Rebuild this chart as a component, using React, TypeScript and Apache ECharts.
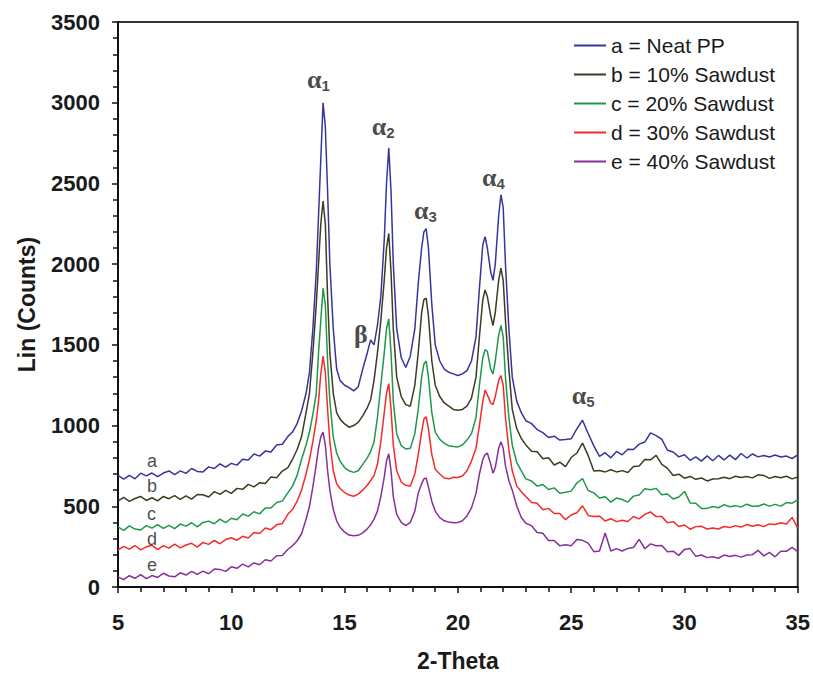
import { useEffect, useRef } from "react";
import * as echarts from "echarts";

// 2-Theta sampling positions (degrees)
const twoTheta = [
  5, 5.25, 5.5, 5.75, 6, 6.25, 6.5, 6.75, 7, 7.25, 7.5, 7.75, 8, 8.25, 8.5, 8.75, 9, 9.25, 9.5, 9.75,
  10, 10.25, 10.5, 10.75, 11, 11.25, 11.5, 11.75, 12, 12.25, 12.5,
  12.7, 12.9, 13.1, 13.3, 13.45, 13.6, 13.75, 13.85, 13.95, 14.05, 14.15, 14.25, 14.35, 14.5, 14.65, 14.8,
  15.0, 15.2, 15.4, 15.6, 15.8, 16.0, 16.15, 16.3, 16.45, 16.6, 16.75, 16.85, 16.95, 17.05, 17.15, 17.3,
  17.5, 17.7, 17.9, 18.1, 18.25, 18.4, 18.5, 18.6, 18.7, 18.85, 19.0, 19.2, 19.4, 19.6, 19.8, 20.0, 20.2,
  20.4, 20.6, 20.8, 20.95, 21.1, 21.2, 21.3, 21.45, 21.55, 21.65, 21.8, 21.9, 22.0, 22.1, 22.25, 22.4,
  22.6, 22.8, 23.0,
  23.25, 23.5, 23.75, 24, 24.25, 24.5, 24.75, 25, 25.25, 25.5, 25.75, 26, 26.25, 26.5, 26.75, 27, 27.25,
  27.5, 27.75, 28, 28.25, 28.5, 28.75, 29, 29.25, 29.5, 29.75, 30, 30.25, 30.5, 30.75, 31, 31.25, 31.5,
  31.75, 32, 32.25, 32.5, 32.75, 33, 33.25, 33.5, 33.75, 34, 34.25, 34.5, 34.75, 35,
];

const seriesNames = [
  "a = Neat PP",
  "b = 10% Sawdust",
  "c = 20% Sawdust",
  "d = 30% Sawdust",
  "e = 40% Sawdust",
];

const neatPP = [
  692, 668, 691, 670, 705, 688, 706, 683, 706, 719, 696, 719, 704, 734, 716, 713, 744, 734, 763, 742,
  766, 755, 792, 787, 824, 811, 842, 836, 880, 884, 933,
  960, 1010, 1090, 1200, 1330, 1600, 1950, 2300, 2650, 3000, 2850, 2450, 2000, 1600, 1350, 1280,
  1250, 1235, 1215, 1240, 1350, 1450, 1530, 1500, 1620, 1800, 2150, 2500, 2720, 2450, 2000, 1600,
  1420, 1360, 1430, 1600, 1880, 2100, 2200, 2220, 2100, 1750, 1500, 1400, 1350, 1330, 1320, 1310, 1320,
  1340, 1400, 1550, 1850, 2120, 2170, 2100, 1950, 1900, 2000, 2300, 2430, 2350, 2000, 1600, 1300,
  1150, 1080, 1030,
  1012, 975, 956, 926, 934, 910, 913, 918, 979, 1033, 951, 874, 809, 832, 800, 840, 819,
  853, 852, 885, 898, 955, 938, 914, 847, 836, 806, 819, 785, 806, 780, 812, 782, 815,
  787, 817, 789, 827, 799, 824, 806, 815, 805, 818, 805, 811, 796, 818,
];

const sawdust10 = [
  532, 555, 530, 548, 561, 536, 553, 533, 561, 547, 566, 543, 565, 544, 573, 571, 558, 591, 574, 599,
  580, 611, 605, 636, 620, 646, 641, 681, 677, 718, 739,
  790, 850, 930, 1080, 1200, 1450, 1750, 2000, 2250, 2390, 2250, 1800, 1450, 1200, 1080, 1040,
  1010, 990, 1000, 1020, 1060, 1110, 1160, 1280, 1450, 1650, 1900, 2100, 2190, 1950, 1600, 1300,
  1180, 1130, 1120, 1250, 1450, 1700, 1780, 1790, 1680, 1400, 1250, 1180, 1140, 1120, 1100, 1095, 1100,
  1120, 1170, 1300, 1550, 1780, 1840, 1800, 1680, 1620, 1700, 1900, 1975, 1900, 1650, 1350, 1100,
  980, 920, 880,
  841, 838, 794, 801, 756, 773, 746, 802, 830, 891, 815, 718, 722, 713, 726, 713, 721,
  709, 746, 750, 790, 788, 815, 759, 735, 691, 699, 674, 685, 667, 675, 657, 669, 671,
  680, 671, 686, 679, 684, 676, 695, 691, 673, 685, 677, 686, 670, 681,
];

const sawdust20 = [
  372, 351, 379, 359, 353, 380, 365, 387, 363, 382, 362, 390, 377, 398, 372, 400, 408, 392, 420, 399,
  426, 417, 452, 439, 466, 453, 489, 489, 524, 532, 585,
  625, 690, 790, 880, 960, 1070, 1200, 1450, 1650, 1850, 1750, 1400, 1150, 930, 830, 780,
  740, 720, 710, 720, 760, 800, 840, 900, 1050, 1250, 1450, 1600, 1660, 1450, 1150, 950,
  875, 855, 860, 950, 1100, 1300, 1380, 1400, 1300, 1080, 960, 915, 890, 875, 870, 868, 880,
  910, 950, 1050, 1250, 1420, 1470, 1460, 1350, 1320, 1400, 1560, 1620, 1550, 1300, 1050, 880,
  770, 720, 670,
  657, 625, 635, 604, 614, 581, 587, 594, 644, 672, 598, 583, 551, 559, 526, 551, 542,
  526, 563, 570, 608, 602, 611, 571, 576, 545, 557, 592, 521, 519, 486, 487, 499, 491,
  510, 497, 504, 496, 513, 500, 500, 514, 501, 512, 501, 523, 519, 540,
];

const sawdust30 = [
  228, 252, 235, 257, 230, 249, 258, 231, 256, 241, 266, 242, 260, 271, 247, 276, 264, 289, 268, 294,
  305, 290, 314, 303, 338, 331, 365, 355, 385, 393, 452,
  480, 530, 600, 700, 790, 900, 1030, 1150, 1320, 1430, 1330, 1100, 900, 720, 640, 610,
  585, 570, 562, 575, 600, 630, 660, 690, 760, 900, 1080, 1200, 1260, 1100, 880, 720,
  650, 630, 625, 700, 820, 960, 1040, 1055, 980, 820, 730, 700, 675, 670, 680, 678, 688,
  720, 780, 860, 1000, 1150, 1220, 1190, 1140, 1130, 1180, 1280, 1310, 1250, 1050, 850, 720,
  625, 590, 560,
  524, 519, 478, 487, 455, 455, 417, 446, 460, 503, 443, 437, 439, 409, 423, 405, 413,
  406, 437, 422, 450, 465, 436, 436, 398, 405, 375, 384, 358, 374, 376, 359, 365, 359,
  375, 368, 380, 371, 387, 376, 386, 374, 391, 387, 398, 390, 431, 364,
];

const sawdust40 = [
  63, 46, 70, 54, 76, 52, 71, 59, 85, 68, 63, 88, 74, 97, 78, 98, 82, 111, 109, 97,
  125, 116, 142, 125, 149, 138, 169, 161, 194, 195, 234,
  255, 285, 330, 420, 500, 620, 760, 860, 930, 960, 880, 720, 600, 480, 410, 370,
  340, 322, 318, 320, 335, 360, 385, 420, 470, 560, 680, 780, 825, 720, 560, 450,
  400, 380, 400, 470, 580, 640, 670, 675, 620, 530, 470, 430, 410, 402, 398, 400, 410,
  440, 490, 580, 700, 790, 820, 830, 760, 705, 740, 860, 900, 860, 750, 660, 600,
  500, 430, 395,
  380, 337, 333, 288, 288, 255, 262, 255, 294, 289, 272, 219, 223, 335, 223, 238, 223,
  239, 245, 295, 237, 267, 256, 257, 218, 222, 196, 233, 238, 190, 198, 182, 187, 178,
  198, 189, 196, 185, 198, 200, 227, 193, 214, 187, 222, 221, 245, 219,
];

const seriesValues = [neatPP, sawdust10, sawdust20, sawdust30, sawdust40];
const seriesColors = ["#35359e", "#3d3b22", "#1f984a", "#f52a2a", "#86309a"];

// Peak annotations (data coordinates of the label's left-middle point)
const peakLabels = [
  { x: 13.34, y: 3145, greek: "α", sub: "1" },
  { x: 16.2, y: 2851, greek: "α", sub: "2" },
  { x: 18.06, y: 2330, greek: "α", sub: "3" },
  { x: 21.06, y: 2538, greek: "α", sub: "4" },
  { x: 25.03, y: 1189, greek: "α", sub: "5" },
  { x: 15.41, y: 1563, greek: "β", sub: "" },
];

// Curve letters at the left
const curveLetters = [
  { x: 6.28, y: 779, text: "a" },
  { x: 6.28, y: 625, text: "b" },
  { x: 6.28, y: 454, text: "c" },
  { x: 6.28, y: 300, text: "d" },
  { x: 6.28, y: 135, text: "e" },
];

const SANS = "'Liberation Sans', Arial, sans-serif";
const SERIF = "'Liberation Serif', 'Times New Roman', serif";

export default function App() {
  const ref = useRef<HTMLDivElement>(null);

  useEffect(() => {
    if (!ref.current) return;
    const chart = echarts.init(ref.current, undefined, { renderer: "svg" });

    const lineSeries = seriesNames.map((name, si) => ({
      name,
      type: "line",
      data: twoTheta.map((t, i) => [t, seriesValues[si][i]]),
      showSymbol: false,
      symbol: "none",
      lineStyle: { color: seriesColors[si], width: 1.5 },
      itemStyle: { color: seriesColors[si] },
      z: 5 - si,
    }));

    const annotationSeries = {
      type: "scatter",
      silent: true,
      symbolSize: 0,
      z: 10,
      data: [
        ...peakLabels.map((p) => ({
          value: [p.x, p.y],
          label: {
            show: true,
            position: "right",
            distance: 0,
            formatter: p.sub ? `{g|${p.greek}}{s|${p.sub}}` : `{g|${p.greek}}`,
            rich: {
              g: { fontFamily: SERIF, fontWeight: "bold", fontSize: 26, color: "#1a1a1a" },
              s: {
                fontFamily: SANS,
                fontWeight: "bold",
                fontSize: 15,
                color: "#1a1a1a",
                padding: [12, 0, 0, 0],
              },
            },
          },
        })),
        ...curveLetters.map((l) => ({
          value: [l.x, l.y],
          label: {
            show: true,
            position: "right",
            distance: 0,
            formatter: l.text,
            fontFamily: SANS,
            fontSize: 18,
            color: "#1a1a1a",
          },
        })),
      ],
    };

    chart.setOption({
      animation: false,
      backgroundColor: "#ffffff",
      grid: {
        left: 118,
        right: 15,
        top: 22,
        bottom: 85,
        show: true,
        borderColor: "#333",
        borderWidth: 2,
        containLabel: false,
      },
      legend: {
        data: seriesNames,
        orient: "vertical",
        left: 573,
        top: 35,
        padding: 0,
        itemWidth: 32,
        itemHeight: 14,
        itemGap: 8,
        itemStyle: { color: "rgba(0,0,0,0)", borderColor: "rgba(0,0,0,0)", borderWidth: 0 },
        lineStyle: { width: 2 },
        textStyle: { fontFamily: SANS, fontSize: 21, color: "#1a1a1a", lineHeight: 21 },
      },
      xAxis: {
        type: "value",
        min: 5,
        max: 35,
        interval: 5,
        name: "2-Theta",
        nameLocation: "middle",
        nameGap: 62,
        nameTextStyle: { fontFamily: SANS, fontWeight: "bold", fontSize: 23, color: "#1a1a1a" },
        axisLine: { show: true, onZero: false, lineStyle: { color: "#111", width: 2 } },
        axisTick: { show: true, inside: false, length: 6, lineStyle: { color: "#111", width: 1.5 } },
        minorTick: { show: true, splitNumber: 5, length: 5, lineStyle: { color: "#111", width: 1.5 } },
        splitLine: { show: false },
        axisLabel: {
          fontFamily: SANS,
          fontWeight: "bold",
          fontSize: 22,
          color: "#1a1a1a",
          margin: 24,
          formatter: (v: number) => String(v),
        },
      },
      yAxis: {
        type: "value",
        min: 0,
        max: 3500,
        interval: 500,
        name: "Lin (Counts)",
        nameLocation: "middle",
        nameGap: 80,
        nameTextStyle: { fontFamily: SANS, fontWeight: "bold", fontSize: 23, color: "#1a1a1a" },
        axisLine: { show: true, lineStyle: { color: "#111", width: 2 } },
        axisTick: { show: true, inside: false, length: 6, lineStyle: { color: "#111", width: 1.5 } },
        minorTick: { show: true, splitNumber: 5, length: 5, lineStyle: { color: "#111", width: 1.5 } },
        splitLine: { show: false },
        axisLabel: {
          fontFamily: SANS,
          fontWeight: "bold",
          fontSize: 22,
          color: "#1a1a1a",
          margin: 18,
          formatter: (v: number) => String(v),
        },
      },
      series: [...lineSeries, annotationSeries],
    });

    return () => {
      chart.dispose();
    };
  }, []);

  return (
    <div
      ref={ref}
      style={{ position: "absolute", left: 0, top: 0, width: 813, height: 677, background: "#fff" }}
    />
  );
}
